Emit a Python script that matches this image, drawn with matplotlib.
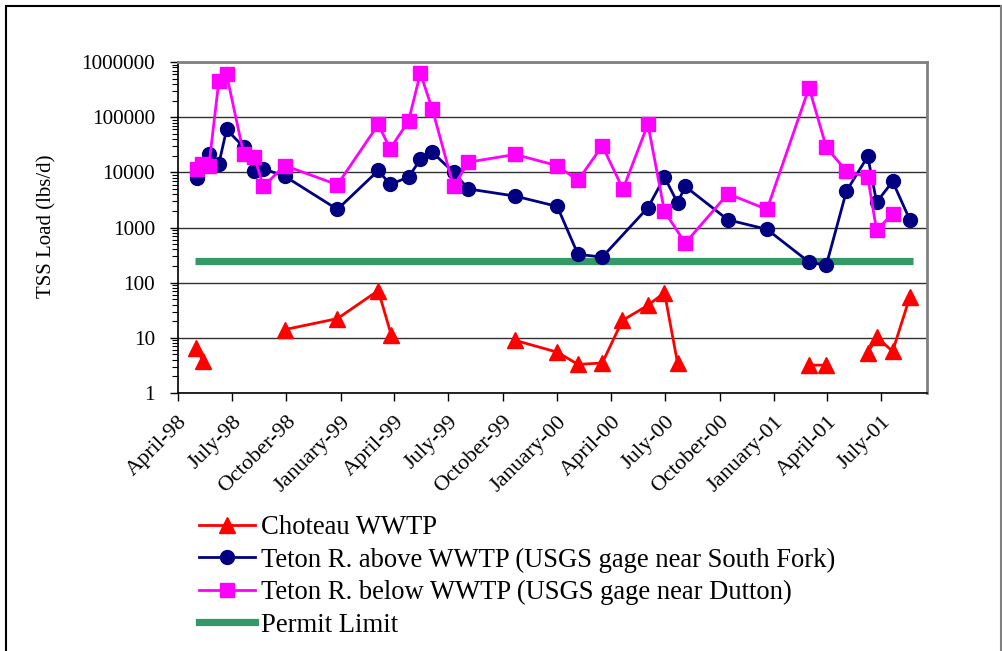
import matplotlib
matplotlib.use("Agg")
import matplotlib.pyplot as plt
import matplotlib.dates as mdates
import matplotlib.transforms as mtransforms
from matplotlib.ticker import LogLocator, FixedLocator, FixedFormatter, NullFormatter
from matplotlib.lines import Line2D
from matplotlib.patches import Rectangle
import numpy as np
import pandas as pd

plt.rcParams['font.family'] = ['Liberation Serif', 'DejaVu Serif']

# Choteau WWTP (NaN = no sample, breaks the line)
choteau_dates = ["1998-05-02", "1998-05-13", None, "1998-09-28", "1998-12-26", "1999-03-05",
                 "1999-03-27", None, "1999-10-22", "2000-01-01", "2000-02-05", "2000-03-17",
                 "2000-04-20", "2000-06-02", "2000-06-30", "2000-07-22", None, "2001-03-01",
                 "2001-03-30", None, "2001-06-08", "2001-06-23", "2001-07-20", "2001-08-18"]
choteau_vals = [6.6, 3.8, np.nan, 14.1, 22.3, 72, 11.1, np.nan, 9.0, 5.5, 3.3, 3.5,
                20.7, 38.8, 66, 3.5, np.nan, 3.2, 3.2, np.nan, 5.3, 10.3, 5.7, 55]

# Teton R. above WWTP (USGS gage near South Fork)
above_dates = ["1998-05-03", "1998-05-23", "1998-06-09", "1998-06-22", "1998-07-21",
               "1998-08-08", "1998-08-23", "1998-09-28", "1998-12-26", "1999-03-05",
               "1999-03-25", "1999-04-25", "1999-05-15", "1999-06-04", "1999-07-10",
               "1999-08-04", "1999-10-22", "2000-01-01", "2000-02-05", "2000-03-17",
               "2000-06-02", "2000-06-30", "2000-07-22", "2000-08-04", "2000-10-15",
               "2000-12-20", "2001-03-01", "2001-03-30", "2001-05-03", "2001-06-08",
               "2001-06-23", "2001-07-20", "2001-08-18"]
above_vals = [7850, 21700, 14300, 59800, 28600, 10500, 11600, 8530, 2130, 10800,
              6040, 8190, 17100, 23200, 10000, 5000, 3710, 2410, 326, 291,
              2290, 8190, 2810, 5550, 1380, 925, 236, 206, 4560, 19400,
              2880, 6840, 1380]

# Teton R. below WWTP (USGS gage near Dutton)
below_dates = ["1998-05-03", "1998-05-11", "1998-05-23", "1998-06-09", "1998-06-22",
               "1998-07-21", "1998-08-08", "1998-08-23", "1998-09-28", "1998-12-26",
               "1999-03-05", "1999-03-25", "1999-04-25", "1999-05-15", "1999-06-04",
               "1999-07-10", "1999-08-04", "1999-10-22", "2000-01-01", "2000-02-05",
               "2000-03-17", "2000-04-21", "2000-06-02", "2000-06-30", "2000-08-04",
               "2000-10-15", "2000-12-20", "2001-03-01", "2001-03-30", "2001-05-03",
               "2001-06-08", "2001-06-23", "2001-07-20"]
below_vals = [11600, 13900, 12800, 462000, 594000, 21100, 18800, 5550, 13300, 5960,
              73800, 26700, 84700, 627000, 142000, 5550, 15300, 21100, 13200, 7130,
              30300, 4960, 74700, 1960, 521, 4090, 2130, 341000, 28600, 10500,
              8190, 885, 1780]

# Permit limit
permit_dates = ["1998-04-29", "2001-08-24"]
permit_vals = [250, 250]

tick_labels = ["April-98", "July-98", "October-98", "January-99", "April-99", "July-99",
               "October-99", "January-00", "April-00", "July-00", "October-00",
               "January-01", "April-01", "July-01"]
tick_dates = ["1998-04-01", "1998-07-01", "1998-10-01", "1999-01-01", "1999-04-01",
              "1999-07-01", "1999-10-01", "2000-01-01", "2000-04-01", "2000-07-01",
              "2000-10-01", "2001-01-01", "2001-04-01", "2001-07-01"]

def todates(lst):
    return [pd.Timestamp(d) if d is not None else pd.Timestamp("1998-05-20") for d in lst]

W, H = 1003, 651
fig = plt.figure(figsize=(W / 100, H / 100), dpi=100)
fig.patch.set_facecolor('white')

# outer frame
fig.add_artist(Rectangle((6 / W, -0.01), (1001.5 - 6) / W, (H - 6) / H + 0.01,
                         transform=fig.transFigure, fill=False, edgecolor='black', lw=1.5))
fig.add_artist(Line2D([1001.5 / W, 1001.5 / W], [0, (H - 6) / H], transform=fig.transFigure,
                      color='#808080', lw=1.5))

ax = fig.add_axes([178 / W, (H - 393) / H, (927 - 178) / W, (393 - 62) / H])

LW = 2.0
ax.plot(todates(choteau_dates), choteau_vals, color='#ff0000', lw=LW, marker='^', ms=11.5,
        markeredgecolor='#ff0000', markerfacecolor='#ff0000', zorder=4)
ax.plot(todates(above_dates), above_vals, color='#000080', lw=LW, marker='o', ms=10,
        markeredgecolor='#000080', markerfacecolor='#000080', zorder=4)
ax.plot(todates(below_dates), below_vals, color='#ff00ff', lw=LW, marker='s', ms=10.5,
        markeredgecolor='#ff00ff', markerfacecolor='#ff00ff', zorder=5)
ax.plot(todates(permit_dates), permit_vals, color='#339966', lw=5.2, solid_capstyle='butt',
        zorder=3)

ax.set_yscale('log')
ax.set_ylim(1, 1e6)
ax.set_xlim(pd.Timestamp("1998-04-01"), pd.Timestamp("2001-09-16"))

ax.yaxis.set_minor_locator(LogLocator(base=10, subs=np.arange(2, 10), numticks=20))
ax.yaxis.set_minor_formatter(NullFormatter())
ax.set_yticks([1, 10, 100, 1000, 10000, 100000, 1000000])
ax.set_yticklabels(["1", "10", "100", "1000", "10000", "100000", "1000000"], fontsize=15.3)

tpos = [mdates.date2num(pd.Timestamp(d)) for d in tick_dates]
ax.xaxis.set_major_locator(FixedLocator(tpos))
ax.xaxis.set_major_formatter(FixedFormatter(tick_labels))
offset = mtransforms.ScaledTranslation(-7 / 100, 5 / 100, fig.dpi_scale_trans)
for lbl in ax.get_xticklabels():
    lbl.set_rotation(45)
    lbl.set_ha('right')
    lbl.set_rotation_mode('anchor')
    lbl.set_fontsize(16)
    lbl.set_transform(lbl.get_transform() + offset)

ax.tick_params(axis='both', which='major', direction='out', length=6, width=1, color='black')
ax.tick_params(axis='y', which='major', pad=10.5)
ax.tick_params(axis='y', which='minor', direction='out', length=4, width=0.8, color='black')
ax.tick_params(axis='x', which='major', pad=8)

ax.grid(True, which='major', axis='y', color='#303030', lw=1)
ax.set_axisbelow(True)

for s in ['top', 'right']:
    ax.spines[s].set_color('#808080')
    ax.spines[s].set_linewidth(2)
for s in ['left', 'bottom']:
    ax.spines[s].set_color('black')
    ax.spines[s].set_linewidth(1.2)

fig.text(47 / W, 1 - 226 / H, "TSS Load (lbs/d)", rotation=90, ha='center', va='center', fontsize=15)

handles = [
    Line2D([], [], color='#ff0000', lw=LW, marker='^', ms=11.5),
    Line2D([], [], color='#000080', lw=LW, marker='o', ms=10),
    Line2D([], [], color='#ff00ff', lw=LW, marker='s', ms=10.5),
    Line2D([], [], color='#339966', lw=5.2),
]
labels = ["Choteau WWTP", "Teton R. above WWTP (USGS gage near South Fork)",
          "Teton R. below WWTP (USGS gage near Dutton)", "Permit Limit"]
fig.legend(handles, labels, loc='upper left', bbox_to_anchor=(199 / W, 1 - 515 / H),
           frameon=False, fontsize=19.2, handlelength=2.1, handletextpad=0.23,
           labelspacing=0.28, borderpad=0, borderaxespad=0)

fig.savefig("out.png", dpi=100)
